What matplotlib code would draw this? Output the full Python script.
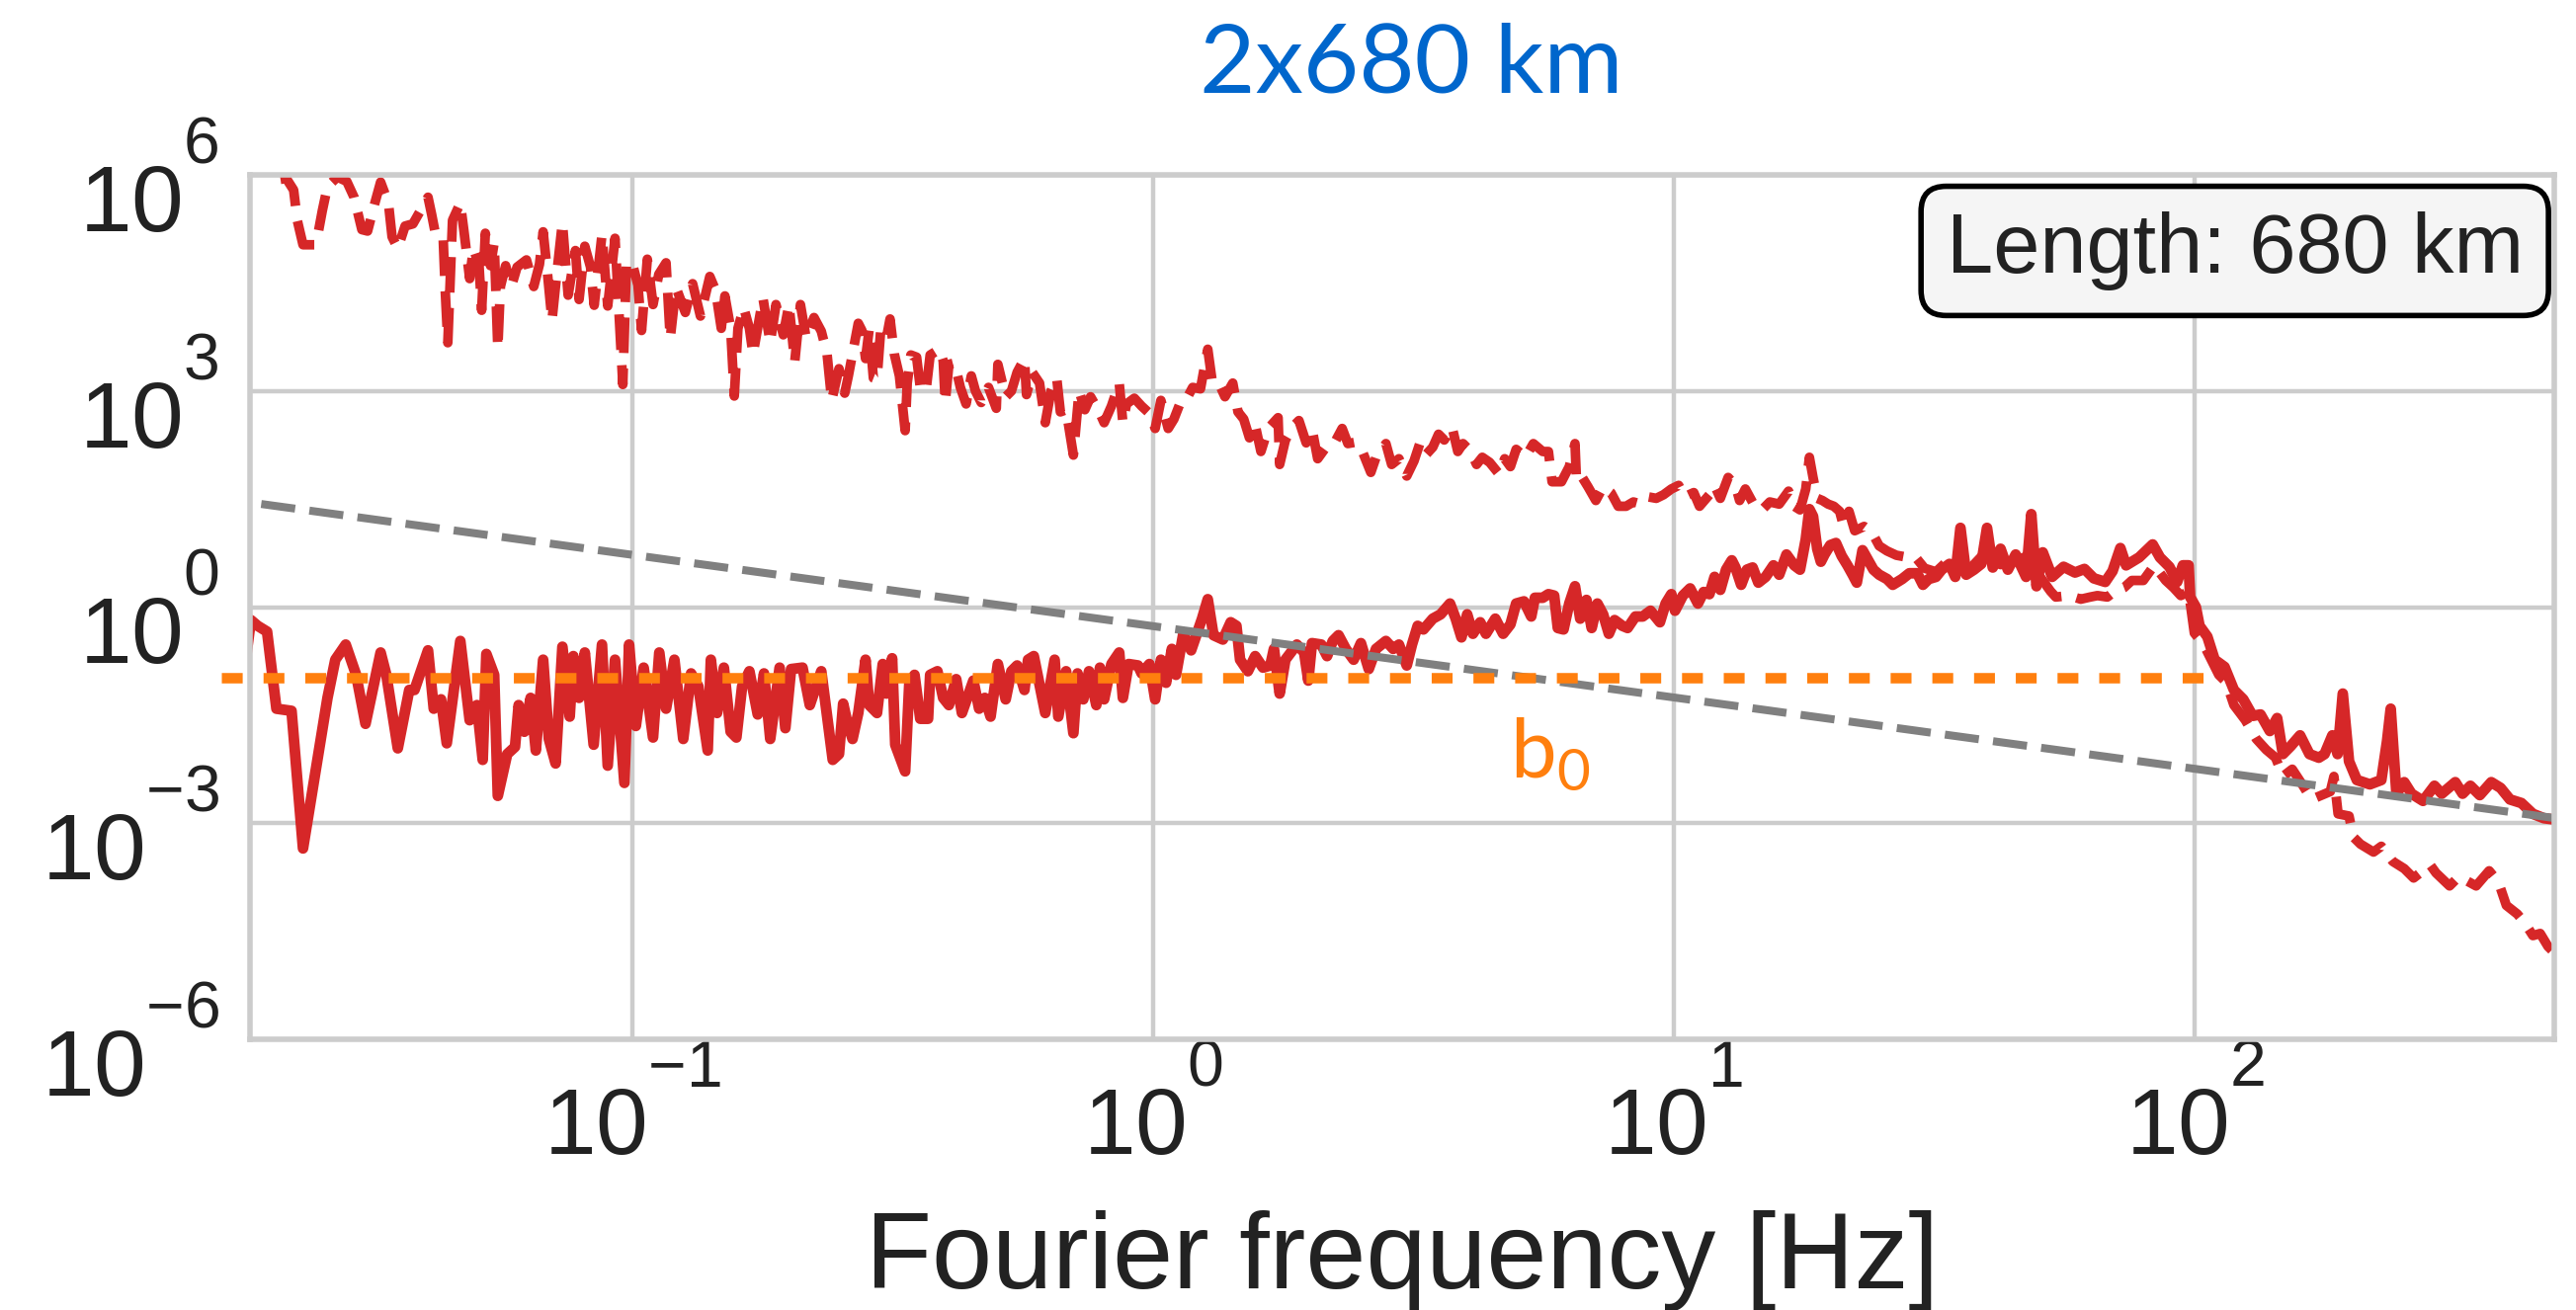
import numpy as np
import matplotlib
matplotlib.use("Agg")
import matplotlib.pyplot as plt
import matplotlib._mathtext as mathtext_internals
from matplotlib.ticker import NullLocator
from matplotlib.transforms import ScaledTranslation

# spectra as (log10 f [Hz], log10 PSD) pairs
solid_pts = [
    (-1.745, -0.90), (-1.732, -0.18), (-1.719, -0.26), (-1.701, -0.34), (-1.683, -1.41), (-1.654, -1.44),
    (-1.632, -3.35), (-1.585, -1.26), (-1.570, -0.73), (-1.550, -0.52), (-1.530, -0.94), (-1.512, -1.62),
    (-1.483, -0.63), (-1.472, -0.94), (-1.450, -1.96), (-1.428, -1.15), (-1.418, -1.15), (-1.392, -0.60),
    (-1.381, -1.41), (-1.367, -1.28), (-1.356, -1.89), (-1.330, -0.47), (-1.312, -1.57), (-1.298, -1.36),
    (-1.287, -2.12), (-1.280, -0.65), (-1.265, -0.94), (-1.258, -2.62), (-1.240, -2.04), (-1.225, -1.94),
    (-1.218, -1.36), (-1.207, -1.73), (-1.195, -1.26), (-1.185, -1.99), (-1.171, -0.73), (-1.160, -1.83),
    (-1.147, -2.17), (-1.134, -0.55), (-1.120, -1.52), (-1.113, -0.68), (-1.102, -1.26), (-1.091, -0.63),
    (-1.074, -1.91), (-1.058, -0.52), (-1.047, -2.20), (-1.033, -0.73), (-1.015, -2.44), (-1.006, -0.52),
    (-0.993, -1.65), (-0.978, -0.84), (-0.960, -1.81), (-0.948, -0.63), (-0.935, -1.41), (-0.919, -0.73),
    (-0.902, -1.83), (-0.887, -0.92), (-0.873, -1.10), (-0.855, -1.99), (-0.849, -0.73), (-0.837, -1.47),
    (-0.824, -0.84), (-0.811, -1.73), (-0.800, -1.81), (-0.789, -1.10), (-0.775, -0.89), (-0.759, -1.49),
    (-0.747, -0.92), (-0.735, -1.83), (-0.717, -0.84), (-0.706, -1.68), (-0.695, -0.86), (-0.673, -0.84),
    (-0.659, -1.36), (-0.637, -0.89), (-0.615, -2.12),
    (-0.603, -2.04), (-0.595, -1.34), (-0.588, -1.57), (-0.577, -1.83), (-0.566, -1.47), (-0.552, -0.73),
    (-0.545, -1.36), (-0.530, -1.47), (-0.519, -0.79), (-0.512, -1.20), (-0.501, -0.71), (-0.495, -1.91),
    (-0.476, -2.28), (-0.468, -1.05), (-0.458, -0.94), (-0.447, -1.55), (-0.432, -1.55), (-0.428, -0.94),
    (-0.414, -0.89), (-0.403, -1.26), (-0.392, -1.36), (-0.378, -1.00), (-0.367, -1.47), (-0.345, -1.02),
    (-0.334, -1.41), (-0.323, -1.26), (-0.312, -1.52), (-0.298, -0.79), (-0.283, -1.28), (-0.272, -0.89),
    (-0.261, -0.81), (-0.247, -1.15), (-0.240, -0.73), (-0.229, -0.68), (-0.207, -1.47), (-0.189, -0.73),
    (-0.182, -1.52), (-0.167, -0.89), (-0.153, -1.75), (-0.145, -0.92), (-0.134, -1.28), (-0.123, -0.89),
    (-0.109, -1.36), (-0.102, -0.84), (-0.094, -1.28), (-0.080, -0.79), (-0.065, -0.63), (-0.058, -1.26),
    (-0.047, -0.79), (-0.029, -0.81), (-0.022, -0.92), (-0.007, -0.79), (0.004, -1.28), (0.015, -0.73),
    (0.025, -1.05), (0.036, -0.58), (0.044, -0.94), (0.058, -0.37), (0.073, -0.60), (0.084, -0.37),
    (0.094, -0.16), (0.105, 0.11), (0.116, -0.39), (0.134, -0.45), (0.149, -0.21), (0.160, -0.26),
    (0.167, -0.73), (0.182, -0.89), (0.196, -0.68), (0.211, -0.84), (0.225, -0.81), (0.232, -0.58),
    (0.243, -1.20), (0.254, -0.73), (0.276, -0.52), (0.290, -0.63), (0.298, -1.02), (0.305, -0.50),
    (0.323, -0.52), (0.334, -0.68), (0.345, -0.47), (0.356, -0.39), (0.370, -0.58), (0.385, -0.73),
    (0.399, -0.50), (0.414, -0.86), (0.428, -0.58), (0.447, -0.47), (0.461, -0.58), (0.472, -0.52),
    (0.487, -0.81), (0.497, -0.52), (0.508, -0.26), (0.519, -0.31),
    (0.537, -0.16), (0.552, -0.10), (0.570, 0.05), (0.581, -0.16), (0.592, -0.42), (0.603, -0.10),
    (0.614, -0.37), (0.628, -0.21), (0.639, -0.37), (0.657, -0.16), (0.672, -0.37), (0.686, -0.24),
    (0.697, 0.05), (0.712, 0.08), (0.726, -0.13), (0.733, 0.13), (0.748, 0.13), (0.759, 0.18),
    (0.770, 0.16), (0.777, -0.29), (0.788, -0.31), (0.799, 0.05), (0.810, 0.29), (0.820, -0.16),
    (0.832, 0.10), (0.842, -0.29), (0.853, 0.05), (0.864, -0.10), (0.875, -0.37), (0.886, -0.18),
    (0.901, -0.26), (0.911, -0.29), (0.926, -0.13), (0.940, -0.13), (0.955, -0.05), (0.973, -0.21),
    (0.984, 0.05), (0.995, 0.18), (1.002, -0.05), (1.017, 0.16), (1.031, 0.26), (1.046, 0.05),
    (1.057, 0.21), (1.068, 0.18), (1.078, 0.42), (1.089, 0.24), (1.100, 0.52), (1.111, 0.65),
    (1.118, 0.55), (1.129, 0.31), (1.140, 0.52), (1.151, 0.55), (1.162, 0.34), (1.176, 0.42),
    (1.191, 0.58), (1.202, 0.45), (1.216, 0.73), (1.231, 0.58), (1.242, 0.52), (1.253, 0.94),
    (1.260, 1.36), (1.267, 1.26), (1.275, 0.81), (1.282, 0.63), (1.289, 0.73), (1.300, 0.86),
    (1.311, 0.89), (1.322, 0.71), (1.333, 0.58), (1.343, 0.45), (1.351, 0.34), (1.362, 0.79),
    (1.373, 0.65), (1.383, 0.52), (1.394, 0.45), (1.409, 0.39), (1.420, 0.31), (1.438, 0.39),
    (1.452, 0.47), (1.467, 0.47), (1.478, 0.31), (1.489, 0.39), (1.503, 0.42), (1.514, 0.52),
    (1.529, 0.60), (1.540, 0.42), (1.550, 1.10), (1.561, 0.45), (1.576, 0.52), (1.590, 0.60),
    (1.601, 1.10), (1.612, 0.55), (1.627, 0.81), (1.641, 0.52), (1.656, 0.73), (1.676, 0.42),
    (1.686, 1.29), (1.696, 0.29), (1.708, 0.76), (1.726, 0.42), (1.748, 0.56), (1.770, 0.48),
    (1.788, 0.53), (1.806, 0.40), (1.828, 0.35), (1.842, 0.50), (1.857, 0.82), (1.868, 0.58),
    (1.893, 0.69), (1.919, 0.87), (1.933, 0.69), (1.951, 0.56), (1.966, 0.35), (1.977, 0.58),
    (1.988, 0.58), (1.991, 0.14), (2.002, 0.00), (2.009, -0.26), (2.024, -0.41), (2.038, -0.73),
    (2.057, -0.83), (2.075, -1.15), (2.093, -1.28), (2.111, -1.51), (2.126, -1.49), (2.144, -1.72),
    (2.158, -1.54), (2.169, -2.04), (2.184, -1.93), (2.202, -1.78), (2.220, -2.04), (2.238, -2.09),
    (2.249, -2.04), (2.264, -1.78), (2.274, -2.04), (2.284, -1.20), (2.296, -2.14), (2.311, -2.40),
    (2.336, -2.46), (2.358, -2.40), (2.369, -1.86), (2.376, -1.41), (2.387, -2.59), (2.402, -2.43),
    (2.416, -2.59), (2.438, -2.69), (2.460, -2.48), (2.474, -2.59), (2.500, -2.43), (2.514, -2.59),
    (2.529, -2.48), (2.547, -2.61), (2.569, -2.43), (2.587, -2.51), (2.605, -2.67), (2.627, -2.72),
    (2.649, -2.87), (2.670, -2.93), (2.692, -2.95),
]

dashed_pts = [
    (-1.745, 6.40), (-1.697, 6.05), (-1.683, 5.93), (-1.664, 5.95), (-1.650, 5.79), (-1.643, 5.37),
    (-1.632, 5.03), (-1.610, 5.03), (-1.603, 5.19), (-1.595, 5.50), (-1.585, 5.84), (-1.566, 5.97),
    (-1.548, 5.91), (-1.534, 5.69), (-1.519, 5.24), (-1.508, 5.22), (-1.494, 5.61), (-1.483, 5.90),
    (-1.468, 5.61), (-1.461, 5.14), (-1.450, 4.98), (-1.436, 5.29), (-1.421, 5.32), (-1.392, 5.69),
    (-1.385, 5.45), (-1.378, 5.19), (-1.363, 5.14), (-1.359, 4.40), (-1.354, 3.67), (-1.345, 5.37),
    (-1.330, 5.61), (-1.323, 5.22), (-1.312, 4.56), (-1.305, 4.98), (-1.294, 4.74), (-1.289, 4.12),
    (-1.282, 5.19), (-1.272, 4.74), (-1.265, 5.06), (-1.258, 3.59), (-1.253, 4.45), (-1.243, 4.74),
    (-1.232, 4.45), (-1.221, 4.72), (-1.203, 4.82), (-1.189, 4.45), (-1.178, 4.76), (-1.171, 5.21),
    (-1.163, 4.66), (-1.154, 3.98), (-1.145, 4.61), (-1.134, 5.34), (-1.123, 4.33), (-1.109, 4.95),
    (-1.102, 4.27), (-1.091, 5.01), (-1.080, 4.72), (-1.073, 4.19), (-1.058, 5.17), (-1.047, 4.18),
    (-1.033, 5.12), (-1.018, 3.09), (-1.011, 4.78), (-1.000, 4.78), (-0.989, 4.47), (-0.982, 3.84),
    (-0.971, 4.83), (-0.960, 4.20), (-0.949, 4.62), (-0.935, 4.78), (-0.927, 3.73), (-0.916, 4.44),
    (-0.898, 4.09), (-0.884, 4.49), (-0.869, 4.04), (-0.851, 4.59), (-0.840, 4.40), (-0.829, 3.87),
    (-0.822, 4.32), (-0.811, 3.87), (-0.804, 2.93), (-0.797, 3.87), (-0.786, 4.16), (-0.775, 3.87),
    (-0.768, 3.51), (-0.749, 4.29), (-0.735, 3.67), (-0.724, 4.20), (-0.710, 3.78), (-0.699, 4.20),
    (-0.688, 3.40), (-0.677, 4.20), (-0.666, 3.73), (-0.651, 4.02), (-0.637, 3.83), (-0.626, 3.52),
    (-0.617, 2.87),
    (-0.603, 3.31), (-0.592, 2.97), (-0.585, 3.21), (-0.574, 3.63), (-0.566, 3.94), (-0.559, 3.84),
    (-0.552, 3.45), (-0.545, 3.86), (-0.537, 3.18), (-0.530, 3.16), (-0.523, 3.84), (-0.512, 3.73),
    (-0.505, 4.00), (-0.497, 3.52), (-0.487, 3.21), (-0.476, 2.45), (-0.472, 3.11), (-0.465, 3.50),
    (-0.454, 3.47), (-0.447, 3.05), (-0.436, 3.00), (-0.428, 3.50), (-0.410, 3.58), (-0.403, 3.42),
    (-0.399, 2.84), (-0.392, 3.37), (-0.381, 3.39), (-0.370, 3.05), (-0.359, 2.82), (-0.349, 3.21),
    (-0.341, 3.00), (-0.330, 2.84), (-0.316, 3.05), (-0.301, 2.76), (-0.298, 3.37), (-0.283, 2.92),
    (-0.272, 3.00), (-0.261, 3.26), (-0.247, 3.45), (-0.243, 2.95), (-0.232, 3.26), (-0.218, 3.11),
    (-0.207, 2.56), (-0.196, 3.00), (-0.185, 3.18), (-0.178, 2.71), (-0.167, 2.74), (-0.153, 2.11),
    (-0.142, 3.00), (-0.131, 2.74), (-0.120, 2.92), (-0.102, 2.69), (-0.094, 2.56), (-0.080, 2.79),
    (-0.065, 3.11), (-0.058, 2.56), (-0.051, 2.82), (-0.036, 2.90), (-0.022, 2.79), (-0.007, 2.69),
    (0.004, 2.48), (0.015, 2.87), (0.029, 2.48), (0.040, 2.61), (0.054, 2.87), (0.065, 2.90),
    (0.076, 3.05), (0.091, 3.03), (0.098, 3.31), (0.105, 3.58), (0.113, 3.16), (0.123, 3.16),
    (0.138, 2.92), (0.153, 3.11), (0.163, 2.71), (0.174, 2.61), (0.185, 2.35), (0.196, 2.53),
    (0.207, 2.16), (0.221, 2.48), (0.240, 2.63), (0.243, 1.98), (0.254, 2.32), (0.269, 2.51),
    (0.280, 2.59), (0.294, 2.28), (0.305, 2.48), (0.316, 2.06), (0.334, 2.24), (0.349, 2.29),
    (0.363, 2.48), (0.374, 2.27), (0.389, 2.29), (0.403, 2.14), (0.418, 1.87), (0.428, 2.08),
    (0.447, 2.27), (0.458, 1.98), (0.472, 2.06), (0.487, 1.82), (0.501, 2.03), (0.512, 2.27),
    (0.523, 2.11),
    (0.537, 2.22), (0.548, 2.40), (0.559, 2.32), (0.574, 2.50), (0.585, 2.16), (0.595, 2.27),
    (0.610, 2.16), (0.621, 1.98), (0.632, 2.08), (0.646, 2.01), (0.664, 1.85), (0.675, 2.06),
    (0.686, 1.95), (0.697, 2.19), (0.715, 2.08), (0.730, 2.27), (0.748, 2.16), (0.759, 2.16),
    (0.766, 1.74), (0.784, 1.74), (0.799, 1.95), (0.810, 2.27), (0.813, 1.74), (0.824, 1.80),
    (0.835, 1.67), (0.850, 1.48), (0.864, 1.67), (0.879, 1.59), (0.893, 1.40), (0.908, 1.40),
    (0.922, 1.46), (0.937, 1.43), (0.951, 1.53), (0.966, 1.51), (0.980, 1.56), (0.995, 1.64),
    (1.009, 1.69), (1.020, 1.53), (1.038, 1.59), (1.049, 1.40), (1.068, 1.56), (1.078, 1.69),
    (1.089, 1.51), (1.104, 1.80), (1.118, 1.69), (1.126, 1.48), (1.137, 1.64), (1.155, 1.40),
    (1.169, 1.35), (1.184, 1.46), (1.202, 1.43), (1.220, 1.61), (1.231, 1.40), (1.242, 1.35),
    (1.253, 1.64), (1.260, 2.08), (1.267, 1.80), (1.275, 1.51), (1.285, 1.48), (1.296, 1.43),
    (1.307, 1.40), (1.318, 1.33), (1.325, 1.14), (1.336, 1.33), (1.347, 1.06), (1.365, 1.12),
    (1.380, 1.04), (1.394, 0.85), (1.409, 0.78), (1.427, 0.72), (1.442, 0.70), (1.452, 0.72),
    (1.463, 0.70), (1.481, 0.54), (1.503, 0.49), (1.525, 0.64), (1.547, 0.49), (1.569, 0.54),
    (1.590, 0.70), (1.612, 0.70), (1.627, 0.59), (1.649, 0.64), (1.676, 0.70),
    (1.708, 0.37), (1.723, 0.22), (1.733, 0.14), (1.759, 0.16), (1.781, 0.11), (1.799, 0.14),
    (1.813, 0.16), (1.832, 0.14), (1.846, 0.22), (1.864, 0.27), (1.879, 0.37), (1.901, 0.37),
    (1.922, 0.58), (1.944, 0.37), (1.959, 0.27), (1.973, 0.16), (1.988, 0.22), (1.999, -0.36),
    (2.017, -0.52), (2.046, -0.94), (2.060, -1.04), (2.075, -1.36), (2.097, -1.57), (2.118, -1.83),
    (2.137, -1.98), (2.155, -2.09), (2.169, -2.35), (2.187, -2.25), (2.206, -2.46), (2.224, -2.67),
    (2.260, -2.56), (2.267, -2.35), (2.275, -2.87), (2.296, -2.90), (2.304, -3.19), (2.318, -3.29),
    (2.343, -3.40), (2.358, -3.32), (2.380, -3.53), (2.402, -3.63), (2.420, -3.76), (2.452, -3.58),
    (2.463, -3.69), (2.489, -3.87), (2.507, -3.74), (2.540, -3.87), (2.565, -3.66), (2.583, -3.82),
    (2.598, -4.14), (2.619, -4.26), (2.634, -4.39), (2.649, -4.56), (2.663, -4.53), (2.678, -4.71),
    (2.692, -4.81),
]

# 1/f reference line (end points) and white-noise level b0
fit_f = [0.0194, 490.0]
fit_psd = [27.0, 1.18e-3]
b0_level = 0.105
b0_f = [0.01625, 106.0]

x_ticks = [0.1, 1, 10, 100]
y_ticks = [1e-6, 1e-3, 1, 1e3, 1e6]


# exponents in the tick labels sit higher than matplotlib's default
class TallSup(mathtext_internals.FontConstantsBase):
    sup1 = 1.37


mathtext_internals._font_constant_mapping["Liberation Sans"] = TallSup

plt.rcParams["font.family"] = ["Liberation Sans", "DejaVu Sans"]

sf, sp = np.array(solid_pts).T
df, dp = np.array(dashed_pts).T

fig = plt.figure(figsize=(13.035, 6.63), dpi=200)
ax = fig.add_axes([0.0970, 0.2066, 0.8946, 0.6599])

ax.plot(10**sf, 10**sp, color="#d62728", lw=3.9, solid_joinstyle="round", solid_capstyle="round")
ax.plot(10**df, 10**dp, color="#d62728", lw=3.5, ls="--")
ax.plot(fit_f, fit_psd, color="gray", lw=2.9, ls=(0, (4.3, 1.8)))
ax.plot(b0_f, [b0_level, b0_level], color="#ff7f0e", lw=3.8, ls=(0, (2.0, 2.0)), clip_on=False)

ax.set_xscale("log")
ax.set_yscale("log")
ax.set_xlim(0.01845, 490)
ax.set_ylim(1e-6, 1e6)
ax.set_xticks(x_ticks)
ax.set_yticks(y_ticks)
ax.xaxis.set_minor_locator(NullLocator())
ax.yaxis.set_minor_locator(NullLocator())

ax.grid(True, color="#cccccc", lw=1.6)
ax.set_axisbelow(True)
for s in ax.spines.values():
    s.set_color("#cccccc")
    s.set_linewidth(2.0)
ax.tick_params(axis="both", length=0, labelsize=34, labelcolor="#222222")
ax.tick_params(axis="x", pad=6.0)
ax.tick_params(axis="y", pad=11)
shift_down = ScaledTranslation(0, -2.7 / 72, fig.dpi_scale_trans)
for lab in ax.get_yticklabels():
    lab.set_transform(lab.get_transform() + shift_down)

ax.set_xlabel("Fourier frequency [Hz]", fontsize=39.5, color="#222222")
ax.xaxis.set_label_coords(0.5, -0.198)
ax.set_title("2x680 km", family="Lato", fontsize=35, color="#0066cc", pad=29.9, x=0.504)

ax.text(4.84, 4.3e-3, r"b$_\mathdefault{0}$", family="Lato", fontsize=30, color="#ff7f0e",
        ha="left", va="baseline")

ax.annotate("Length: 680 km", xy=(1, 1), xycoords="axes fraction", xytext=(-11.3, -13.3),
            textcoords="offset points", ha="right", va="top", fontsize=30.5, color="#222222",
            bbox=dict(boxstyle="round,pad=0.3", fc="#f5f5f5", ec="black", lw=2.0))

fig.savefig("out.png", dpi=200)
